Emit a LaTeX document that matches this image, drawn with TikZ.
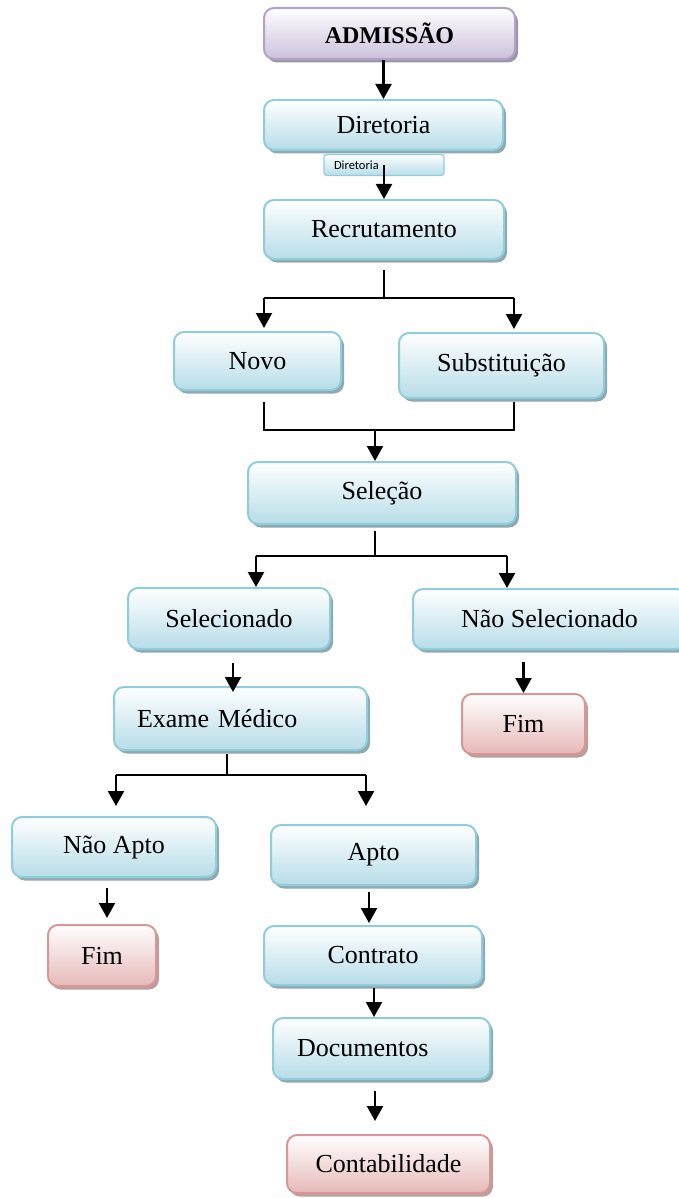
\documentclass[tikz,border=0pt]{standalone}
\usepackage{fontspec}
\setmainfont{Liberation Serif}
\newfontfamily\smallsans{Carlito}
\usetikzlibrary{arrows.meta,shadows,calc}
\definecolor{bluebd}{HTML}{8FCCDC}
\definecolor{bluebot}{HTML}{B7DDE8}
\definecolor{blueshd}{HTML}{8FA9B0}
\definecolor{redbd}{HTML}{D99694}
\definecolor{redbot}{HTML}{E6B9B8}
\definecolor{redshd}{HTML}{B8A0A0}
\definecolor{purbd}{HTML}{B3A2C7}
\definecolor{purbot}{HTML}{CCC1DA}
\definecolor{purshd}{HTML}{9E95A8}
\tikzset{
  boxbase/.style={rectangle, rounded corners=10pt, line width=2pt, inner sep=0pt,
    font=\fontsize{26}{30}\selectfont},
  bluebox/.style={boxbase, draw=bluebd, top color=white, bottom color=bluebot,
    drop shadow={shadow xshift=3pt, shadow yshift=-3.5pt, fill=blueshd, opacity=1}},
  redbox/.style={boxbase, draw=redbd, top color=white, bottom color=redbot,
    drop shadow={shadow xshift=3pt, shadow yshift=-3.5pt, fill=redshd, opacity=1}},
  purbox/.style={boxbase, draw=purbd, top color=white, bottom color=purbot,
    drop shadow={shadow xshift=3pt, shadow yshift=-3.5pt, fill=purshd, opacity=1}},
  conn/.style={line width=2pt, black},
  arr/.style={line width=2.2pt, black, -{Triangle[width=16pt,length=15pt]}},
}
\begin{document}
\begin{tikzpicture}[x=1pt,y=-1pt]
\useasboundingbox (0,0) rectangle (679,1198);

% nodes
\node[purbox, minimum width=251pt, minimum height=51pt] (adm) at (389.5,33.5)
  {\fontsize{24}{28}\selectfont\bfseries ADMISSÃO};
\node[bluebox, minimum width=239pt, minimum height=50pt] (dir) at (383.5,125) {Diretoria};
\node[boxbase, draw=bluebd, line width=1.2pt, rounded corners=3pt, top color=white, bottom color=bluebot,
  minimum width=120pt, minimum height=21pt, text width=100pt, inner xsep=10pt, align=left,
  font=\smallsans\fontsize{12.5}{14}\selectfont] (sdir) at (384,165) {Diretoria};
\node[bluebox, minimum width=240pt, minimum height=59pt] (rec) at (384,229.5) {Recrutamento};
\node[bluebox, minimum width=167pt, minimum height=58pt] (novo) at (257.5,361) {Novo};
\node[bluebox, minimum width=205pt, minimum height=65pt] (sub) at (501.5,365.5) {Substituição};
\node[bluebox, minimum width=268pt, minimum height=62pt] (sel) at (382,493) {Seleção};
\node[bluebox, minimum width=202pt, minimum height=61pt] (seld) at (229,618.5) {Selecionado};
\node[bluebox, minimum width=273pt, minimum height=60pt] (nsel) at (549.5,619) {Não Selecionado};
\node[bluebox, minimum width=253pt, minimum height=63pt, text width=207pt, inner xsep=23pt, align=left] (exa) at (240.5,718.5) {Exame Médico};
\node[redbox, minimum width=123pt, minimum height=60pt] (fimr) at (523.5,724) {Fim};
\node[bluebox, minimum width=204pt, minimum height=60pt] (napt) at (114,847) {Não Apto};
\node[redbox, minimum width=108pt, minimum height=61pt] (fiml) at (102,955.5) {Fim};
\node[bluebox, minimum width=205pt, minimum height=60pt] (apto) at (373.5,855) {Apto};
\node[bluebox, minimum width=218pt, minimum height=59pt] (cont) at (373,955.5) {Contrato};
\node[bluebox, minimum width=217pt, minimum height=61pt, text width=169pt, inner xsep=24pt, align=left] (doc) at (381.5,1048.5) {Documentos};
\node[redbox, minimum width=203pt, minimum height=58pt] (contab) at (388.5,1164) {Contabilidade};

% connectors
\draw[arr] (adm.south -| dir.north) -- (dir.north);
\draw[arr] (sdir.center -| rec.north) -- (rec.north);

\coordinate (r0) at (384,298);
\coordinate (r1) at (264,298);
\coordinate (r2) at (514,298);
\draw[conn] ($(rec.south)+(0,10)$) -- (r0);
\draw[conn] (r1) -- (r2);
\draw[arr] (r1) -- ($(r1 |- novo.north)+(0,-3)$);
\draw[arr] (r2) -- ($(r2 |- sub.north)+(0,-3)$);

\coordinate (m0) at (375,430);
\coordinate (m1) at (264,430);
\coordinate (m2) at (514,430);
\draw[conn] ($(m1)+(0,-28)$) -- (m1) -- (m2) -- ($(m2)+(0,-28)$);
\draw[arr] (m0) -- (m0 |- sel.north);

\coordinate (s0) at (375,556);
\coordinate (s1) at (256,556);
\coordinate (s2) at (507,556);
\draw[conn] ($(s0 |- sel.south)+(0,6)$) -- (s0);
\draw[conn] (s1) -- (s2);
\draw[arr] (s1) -- (s1 |- seld.north);
\draw[arr] (s2) -- (s2 |- nsel.north);

\coordinate (e0) at (233,663);
\draw[arr] (e0) -- ($(e0 |- exa.north)+(0,6)$);
\draw[arr] ($(nsel.south -| fimr.north)+(0,12)$) -- (fimr.north);

\coordinate (x0) at (227,775);
\coordinate (x1) at (116,775);
\coordinate (x2) at (366,775);
\draw[conn] ($(x0 |- exa.south)+(0,3)$) -- (x0);
\draw[conn] (x1) -- (x2);
\draw[arr] (x1) -- ($(x1 |- napt.north)+(0,-10)$);
\draw[arr] (x2) -- ($(x2 |- apto.north)+(0,-18)$);

\draw[arr] ($(napt.south -| fiml.north)+(5,10)$) -- ($(fiml.north)+(5,-6)$);
\draw[arr] ($(apto.south)+(-4.5,6)$) -- ($(cont.north)+(-4,-2)$);
\draw[arr] ($(cont.south)+(1,2)$) -- ($(cont.south |- doc.north)+(1,0)$);
\draw[arr] ($(doc.south)+(-6.5,11)$) -- ($(contab.north)+(-13.5,-13)$);
\end{tikzpicture}
\end{document}
